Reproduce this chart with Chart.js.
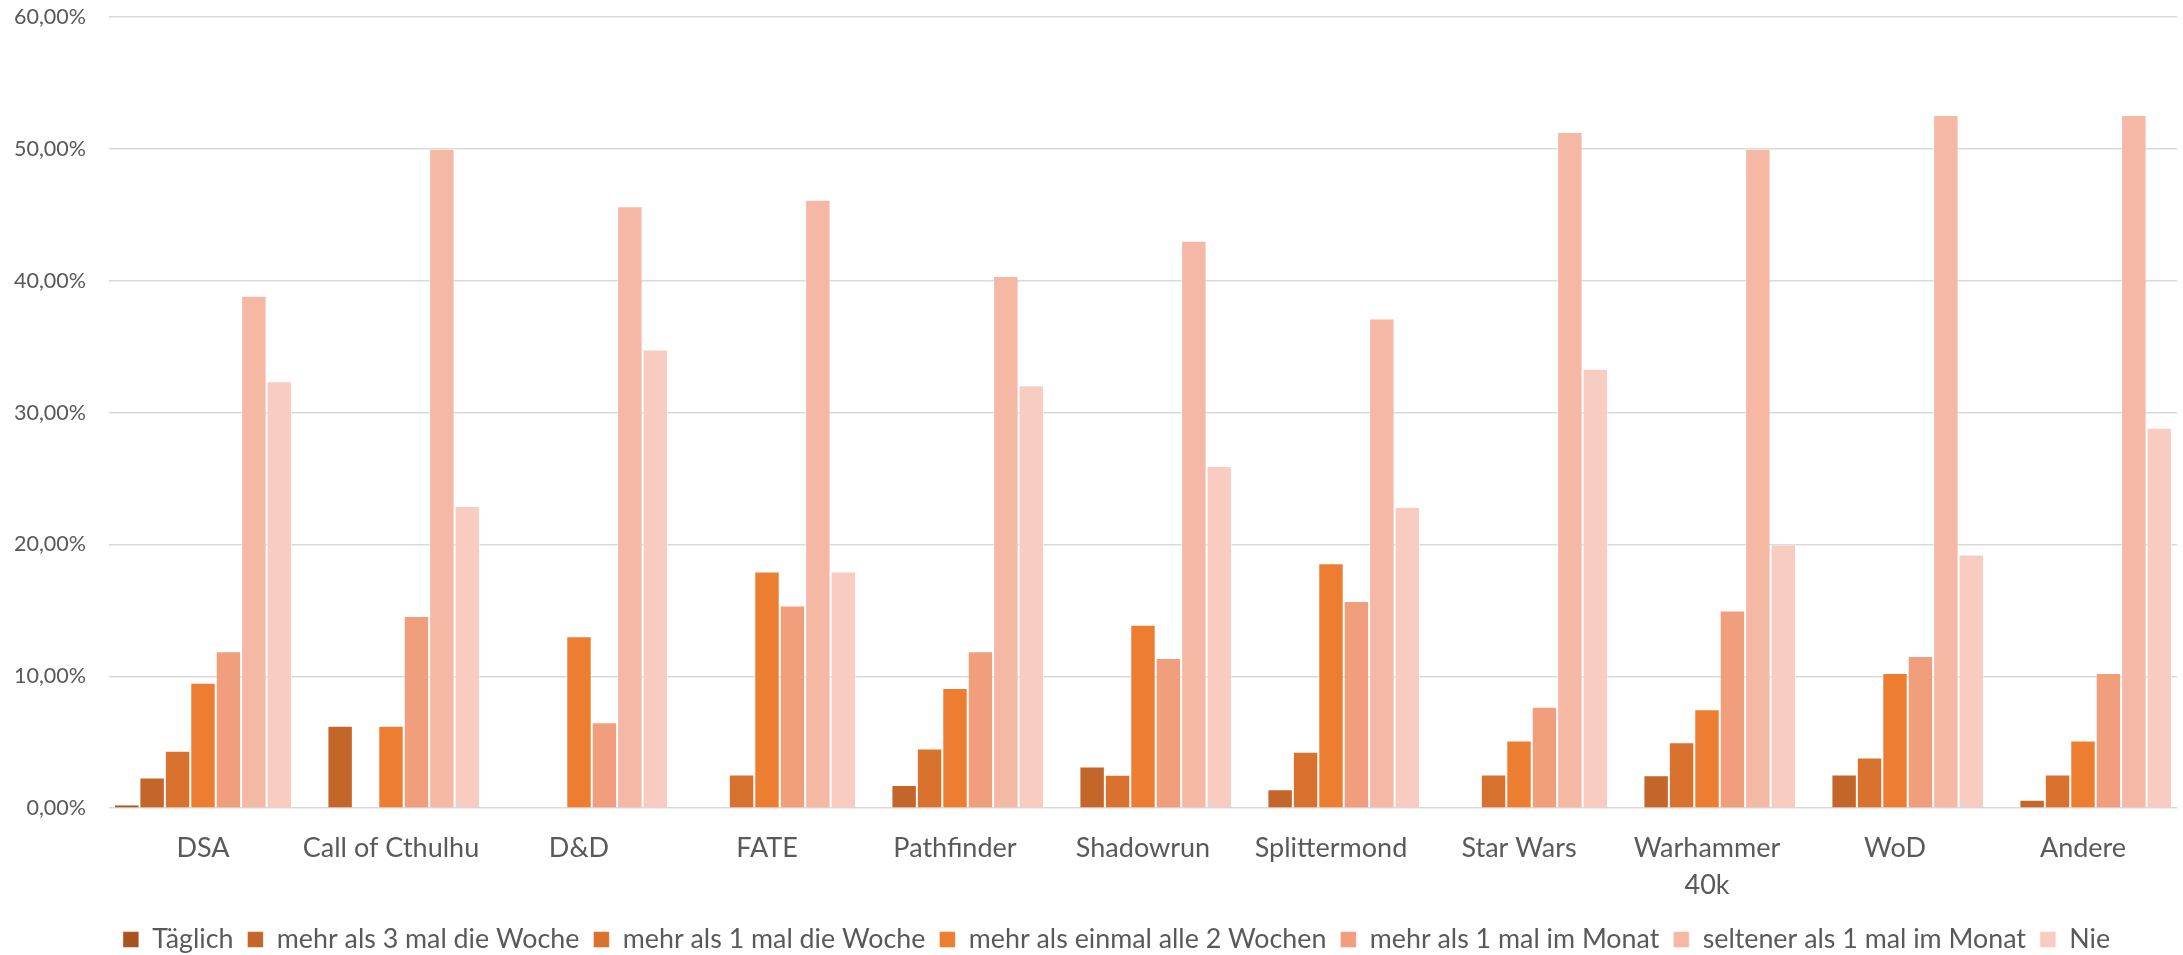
<!DOCTYPE html>
<html lang="de">
<head>
<meta charset="utf-8">
<title>Spielhäufigkeit nach System</title>
<script src="https://cdn.jsdelivr.net/npm/chart.js@4.4.1/dist/chart.umd.min.js"></script>
<style>
  html, body { margin: 0; padding: 0; background: #fff; overflow: hidden; }
  #wrap { width: 2183px; height: 955px; position: relative; }
</style>
</head>
<body>
<div id="wrap"><canvas id="chart"></canvas></div>
<script>
// Kategorien (Rollenspielsysteme)
const systeme = ['DSA', 'Call of Cthulhu', 'D&D', 'FATE', 'Pathfinder', 'Shadowrun',
    'Splittermond', 'Star Wars', ['Warhammer', '40k'], 'WoD', 'Andere'];

// Anteile in Prozent
const taeglich   = [0.29, 0, 0, 0, 0, 0, 0, 0, 0, 0, 0];
const dreiMal    = [2.33, 6.25, 0, 0, 1.75, 3.16, 1.43, 0, 2.5, 2.56, 0.64];
const einMal     = [4.36, 0, 0, 2.56, 4.53, 2.53, 4.29, 2.56, 5.0, 3.85, 2.56];
const zweiWochen = [9.51, 6.25, 13.04, 17.95, 9.12, 13.92, 18.57, 5.13, 7.5, 10.26, 5.13];
const monat      = [11.91, 14.58, 6.52, 15.38, 11.9, 11.39, 15.71, 7.69, 15.0, 11.54, 10.26];
const seltener   = [38.87, 50.0, 45.65, 46.15, 40.36, 43.04, 37.14, 51.28, 50.0, 52.56, 52.56];
const nie        = [32.38, 22.92, 34.78, 17.95, 32.08, 25.95, 22.86, 33.33, 20.0, 19.23, 28.85];

const yTicks = [0, 10, 20, 30, 40, 50, 60];

const serien = [
    { label: 'Täglich', data: taeglich, color: '#A8531F' },
    { label: 'mehr als 3 mal die Woche', data: dreiMal, color: '#C4652A' },
    { label: 'mehr als 1 mal die Woche', data: einMal, color: '#D9712F' },
    { label: 'mehr als einmal alle 2 Wochen', data: zweiWochen, color: '#ED7D31' },
    { label: 'mehr als 1 mal im Monat', data: monat, color: '#F09E7C' },
    { label: 'seltener als 1 mal im Monat', data: seltener, color: '#F4B8A5' },
    { label: 'Nie', data: nie, color: '#F8CCC1' }
];

const textColor = '#595959';
const gridColor = '#d9d9d9';
const fontFamily = 'Lato, "Open Sans", sans-serif';

// Legende etwas nach rechts schieben (in Excel sitzt sie mittig unter der Zeichenfläche)
const legendShift = {
    id: 'legendShift',
    afterLayout(chart) {
        chart.legend.left += 28;
        chart.legend.right += 28;
    }
};

new Chart(document.getElementById('chart').getContext('2d'), {
    type: 'bar',
    data: {
        labels: systeme,
        datasets: serien.map(s => ({
            label: s.label,
            data: s.data,
            backgroundColor: s.color,
            borderColor: 'rgba(255,255,255,0.55)',
            borderWidth: 1,
            categoryPercentage: 0.947,
            barPercentage: 1.0
        }))
    },
    plugins: [legendShift],
    options: {
        responsive: true,
        maintainAspectRatio: false,
        animation: false,
        layout: {
            padding: { top: 17, left: 0, right: 6, bottom: -8 }
        },
        plugins: {
            tooltip: { enabled: false },
            legend: {
                position: 'bottom',
                labels: {
                    color: textColor,
                    font: { family: fontFamily, size: 26.8 },
                    boxWidth: 16,
                    boxHeight: 16,
                    padding: 14
                }
            }
        },
        scales: {
            x: {
                grid: { display: false },
                border: { display: false },
                ticks: {
                    color: textColor,
                    font: { family: fontFamily, size: 27, lineHeight: 1.35 },
                    padding: 14,
                    maxRotation: 0,
                    autoSkip: false
                },
                afterFit: axis => { axis.height = 104; }
            },
            y: {
                min: 0,
                max: 60,
                afterBuildTicks: axis => { axis.ticks = yTicks.map(v => ({ value: v })); },
                grid: { color: gridColor, lineWidth: 1.5, drawTicks: false },
                border: { display: false },
                ticks: {
                    color: textColor,
                    font: { family: fontFamily, size: 21.5 },
                    padding: 23,
                    callback: v => v.toFixed(2).replace('.', ',') + '%'
                },
                afterFit: axis => {
                    axis.width = 109;
                    axis.paddingTop = 0;
                    axis.paddingBottom = 0;
                }
            }
        }
    }
});
</script>
</body>
</html>
